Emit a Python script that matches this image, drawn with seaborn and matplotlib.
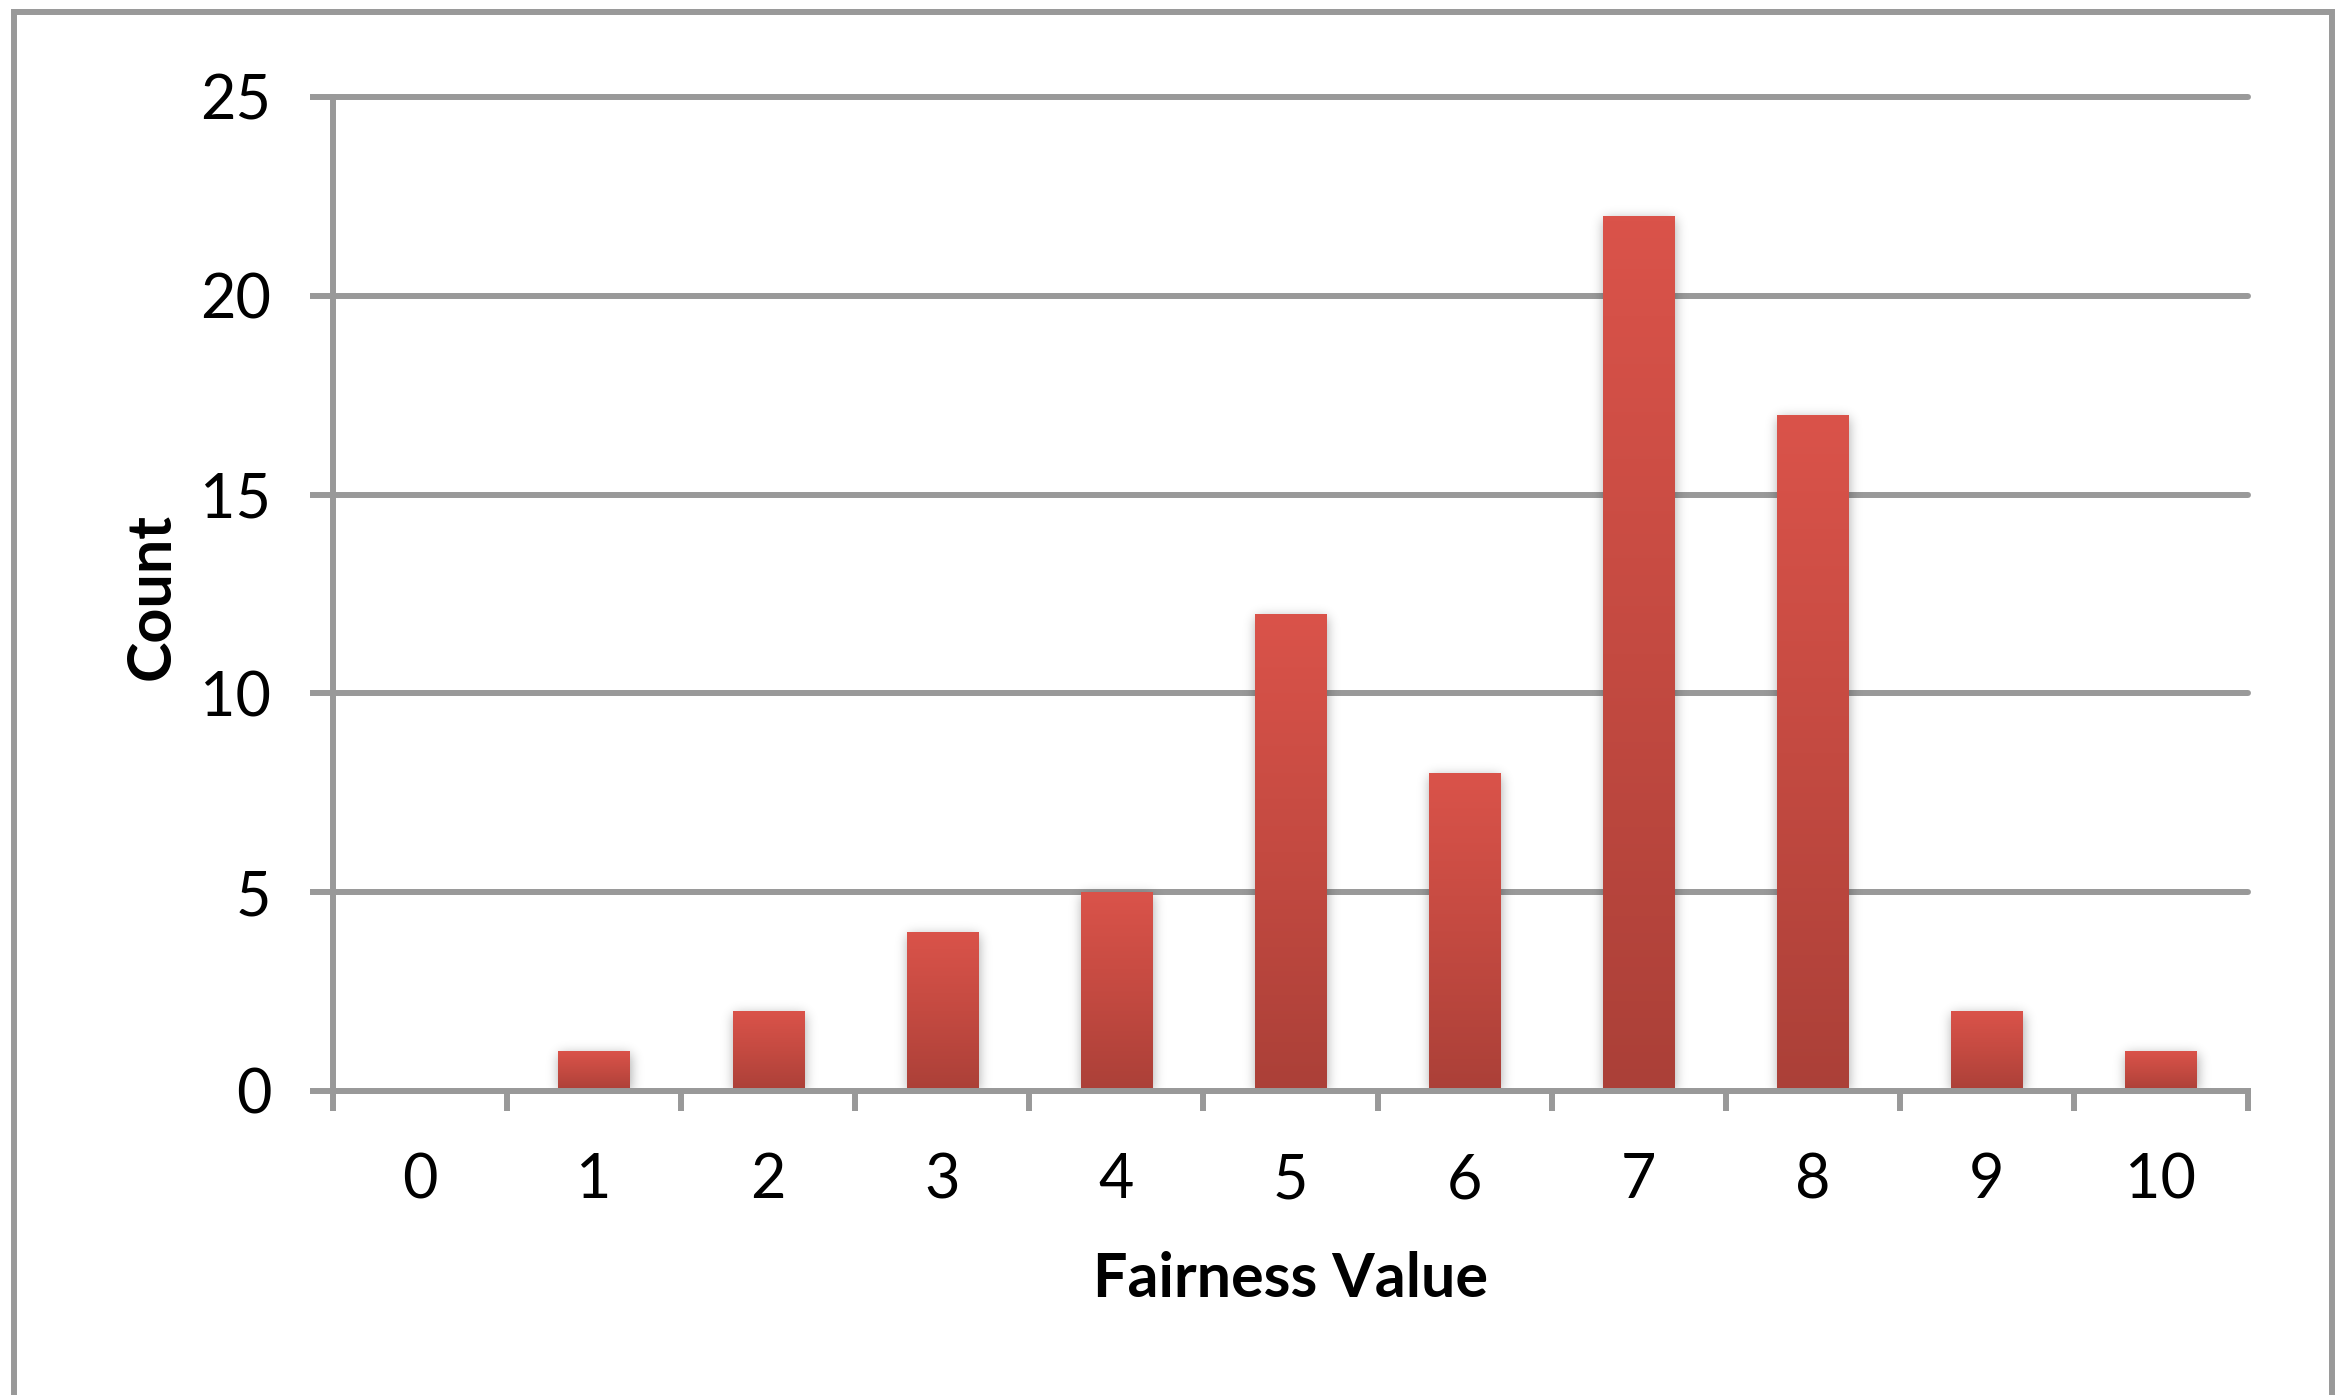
import numpy as np
import matplotlib
matplotlib.use("Agg")
import matplotlib.pyplot as plt
import seaborn as sns
from matplotlib.patches import Rectangle
from matplotlib.colors import LinearSegmentedColormap

# Histogram of fairness ratings
fairness_values = ["0", "1", "2", "3", "4", "5", "6", "7", "8", "9", "10"]
counts = [0, 1, 2, 4, 5, 12, 8, 22, 17, 2, 1]
y_ticks = [0, 5, 10, 15, 20, 25]

W, H = 2342, 1395
DPI = 100
GRAY = "#999999"
LW = 4.3  # points (~6 px)

sns.set_theme(style="white")
plt.rcParams["font.family"] = ["Lato", "DejaVu Sans"]
plt.rcParams["text.color"] = "black"

fig = plt.figure(figsize=(W / DPI, H / DPI), dpi=DPI)
fig.patch.set_facecolor("white")

ax_l, ax_r, ax_t, ax_b = 333, 2248, 97, 1091
ax = fig.add_axes([ax_l / W, 1 - ax_b / H, (ax_r - ax_l) / W, (ax_b - ax_t) / H])

sns.barplot(x=fairness_values, y=counts, width=0.41, color="#C44A40",
            saturation=1, ax=ax, zorder=3, linewidth=0)

ax.set_xlim(-0.5, len(fairness_values) - 0.5)
ax.set_ylim(0, 25)
ax.set_yticks(y_ticks)

# Horizontal gridlines
ax.yaxis.grid(True, color=GRAY, linewidth=LW)
ax.xaxis.grid(False)
ax.set_axisbelow(True)
for gl in ax.get_ygridlines():
    gl.set_clip_on(False)

# Spines
for side in ["top", "right"]:
    ax.spines[side].set_visible(False)
for side in ["left", "bottom"]:
    ax.spines[side].set_color(GRAY)
    ax.spines[side].set_linewidth(LW)
    ax.spines[side].set_zorder(4)

# Ticks: y ticks outward, x ticks at category boundaries
ax.tick_params(axis="y", which="major", left=True, direction="out", length=16.5,
               width=LW, color=GRAY, pad=28, labelsize=44, labelcolor="black")
ax.tick_params(axis="x", which="major", bottom=True, length=0, pad=44,
               labelsize=44, labelcolor="black")
ax.set_xticks(np.arange(-0.5, len(fairness_values), 1.0), minor=True)
ax.tick_params(axis="x", which="minor", bottom=True, direction="out",
               length=14.4, width=LW, color=GRAY)

# Soft shadow beneath the bars
sh_h, sh_w = ax_b - ax_t, ax_r - ax_l
mask = np.zeros((sh_h, sh_w))
bars = [p for p in ax.patches if isinstance(p, Rectangle)]
for p in bars:
    x0, y0 = p.get_x(), p.get_y()
    x1, y1 = x0 + p.get_width(), y0 + p.get_height()
    if y1 - y0 <= 0:
        continue
    c0 = int(round((x0 + 0.5) / 11 * sh_w)) + 1
    c1 = int(round((x1 + 0.5) / 11 * sh_w)) + 1
    r0 = int(round((1 - y1 / 25) * sh_h)) + 3
    r1 = int(round((1 - y0 / 25) * sh_h))
    mask[max(r0, 0):r1, c0:c1] = 1.0
sig = 6.0
k = np.arange(-20, 21)
kern = np.exp(-0.5 * (k / sig) ** 2)
kern /= kern.sum()
blur = np.apply_along_axis(lambda r: np.convolve(r, kern, mode="same"), 1, mask)
blur = np.apply_along_axis(lambda c: np.convolve(c, kern, mode="same"), 0, blur)
shadow = np.zeros((sh_h, sh_w, 4))
shadow[..., 3] = np.clip(blur * 0.35, 0, 1)
ax.imshow(shadow, extent=[-0.5, 10.5, 0, 25], aspect="auto", zorder=2.5,
          interpolation="bilinear")

# Vertical gradient fill on every bar
bar_cmap = LinearSegmentedColormap.from_list("bar", ["#AB4038", "#C44A41", "#DA534A"])
grad = np.linspace(0, 1, 256).reshape(-1, 1)
for p in bars:
    h = p.get_height()
    if h <= 0:
        continue
    x0, y0 = p.get_x(), p.get_y()
    im = ax.imshow(grad, cmap=bar_cmap, origin="lower", aspect="auto",
                   extent=[x0, x0 + p.get_width(), y0, y0 + h], zorder=3.2,
                   interpolation="bilinear")
    im.set_clip_path(p)

ax.set_xlim(-0.5, len(fairness_values) - 0.5)
ax.set_ylim(0, 25)

# Axis titles
ax.set_xlabel("Fairness Value", fontsize=44, fontweight="bold", va="baseline",
              ha="center", color="black")
ax.xaxis.set_label_coords(1290 / W, 1 - 1297 / H, transform=fig.transFigure)
ax.set_ylabel("Count", fontsize=44, fontweight="bold", va="center", ha="center",
              color="black")
ax.yaxis.set_label_coords(152 / W, 1 - 597 / H, transform=fig.transFigure)

# Chart border
frame = Rectangle((14 / W, -0.05), (2332 - 14) / W, 1.05 - 12 / H,
                  transform=fig.transFigure, fill=False, edgecolor=GRAY,
                  linewidth=LW, zorder=10)
fig.patches.append(frame)

fig.savefig("out.png", dpi=DPI, facecolor="white")
